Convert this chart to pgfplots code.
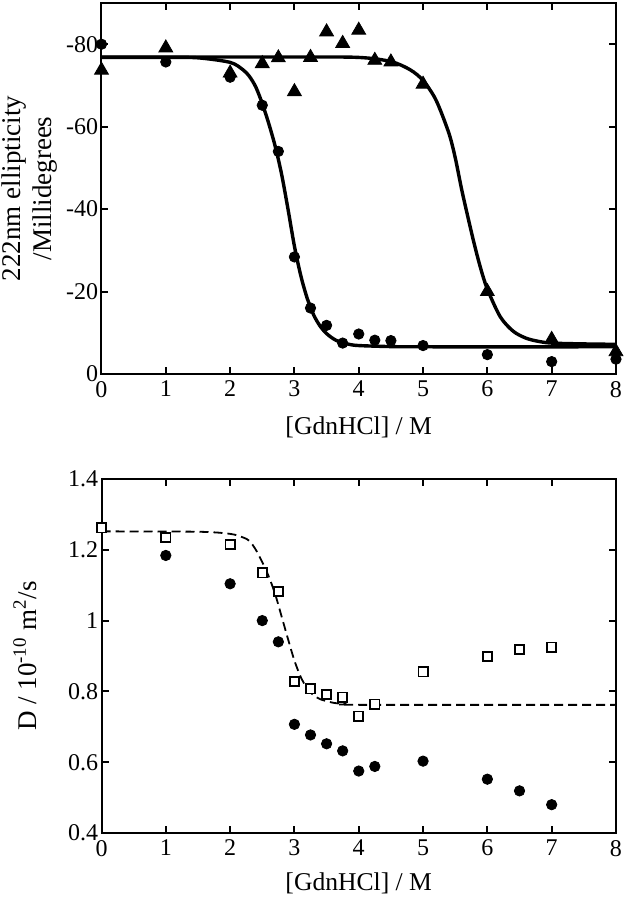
\documentclass[border=0pt]{standalone}
\usepackage{fontspec}
\setmainfont{Liberation Serif}
\usepackage{pgfplots}
\pgfplotsset{compat=1.18}
\begin{document}
\begin{tikzpicture}[x=1pt,y=1pt]
\path[use as bounding box] (0,0) rectangle (312.5,450);
\pgfplotsset{
  myaxis/.style={
    scale only axis, width=257.25pt, xmin=0, xmax=8, xtick={0,1,...,8},
    tick align=inside, major tick length=3.5pt,
    axis line style={line width=1pt},
    every tick/.style={line width=1pt, black},
    minor tick num=0,
    tick label style={font=\fontsize{12}{14}\selectfont},
    yticklabel style={inner sep=1.5pt},
    label style={font=\fontsize{12.8}{15.5}\selectfont},
    /pgf/number format/assume math mode=true,
    clip=false, anchor=south west,
    xlabel={[GdnHCl] / M},
  }
}
% ---------------- top panel ----------------
\begin{axis}[myaxis, at={(50.75pt,263pt)}, height=185.5pt,
  ymin=-90, ymax=0, y dir=reverse, ytick={-80,-60,-40,-20,0},
  xlabel style={at={(axis description cs:0.5,-0.143)}, anchor=center},
  ylabel style={at={(axis description cs:-0.139,0.5)}, anchor=center, align=center, font=\fontsize{13.5}{15.5}\selectfont},
  ylabel={222nm ellipticity\\/Millidegrees}]
\addplot[black, line width=1.7pt, smooth] coordinates {
(0,-76.8) (1,-76.8) (1.5,-76.7) (2,-75.6) (2.2,-73.8) (2.3,-72.2) (2.4,-69.6) (2.5,-65.6)
(2.6,-60.8) (2.7,-55.3) (2.8,-48.5) (2.9,-40) (3.0,-31) (3.1,-23.8) (3.2,-18.3) (3.3,-14.3)
(3.4,-11.6) (3.5,-9.8) (3.6,-8.6) (3.7,-7.8) (3.85,-7.2) (4.0,-6.9) (4.5,-6.65) (5,-6.6) (8,-6.6)};
\addplot[black, line width=1.7pt, smooth] coordinates {
(0,-76.9) (3,-76.9) (4,-76.8) (4.5,-75.8) (4.8,-73.8) (5.0,-71.2) (5.2,-66.5) (5.4,-58.5)
(5.5,-52.5) (5.6,-44.8) (5.7,-37.9) (5.8,-31.3) (5.9,-25.4) (6.0,-20.6) (6.2,-13.9)
(6.4,-10.4) (6.6,-8.7) (6.8,-7.9) (7.0,-7.5) (7.5,-7.3) (8.0,-7.2)};
\addplot[only marks, mark=triangle*, mark size=4pt, black] coordinates {
(0,-73.7) (1,-79.1) (2,-73) (2.5,-75.3) (2.75,-76.7) (3,-68.5) (3.25,-76.8) (3.5,-83)
(3.75,-80.2) (4,-83.4) (4.25,-76.1) (4.5,-75.7) (5,-70.3) (6,-20) (7,-8.4) (8,-5.4)};
\addplot[only marks, mark=*, mark size=2.6pt, black] coordinates {
(0,-80) (1,-75.7) (2,-72) (2.5,-65.2) (2.75,-54) (3,-28.4) (3.25,-16) (3.5,-11.8)
(3.75,-7.5) (4,-9.7) (4.25,-8.2) (4.5,-8.1) (5,-6.9) (6,-4.7) (7,-3.0) (8,-3.6)};
\end{axis}
% ---------------- bottom panel ----------------
\begin{axis}[myaxis, at={(50.75pt,33.5pt)}, height=177pt,
  ymin=0.4, ymax=1.4, ytick={0.4,0.6,0.8,1,1.2,1.4},
  yticklabel style={/pgf/number format/fixed},
  xlabel style={at={(axis description cs:0.5,-0.141)}, anchor=center},
  ylabel style={at={(axis description cs:-0.149,0.5)}, anchor=center, font=\fontsize{13.5}{15.5}\selectfont},
  ylabel={D / 10\textsuperscript{-10} m\textsuperscript{2}/s}]
\addplot[black, line width=0.9pt, dash pattern=on 4.5pt off 2.5pt, smooth] coordinates {
(0,1.252) (1.5,1.251) (2.0,1.245) (2.2,1.235) (2.3,1.225) (2.4,1.200) (2.5,1.165) (2.6,1.125)
(2.7,1.075) (2.8,1.012) (2.9,0.948) (3.0,0.887) (3.1,0.840) (3.2,0.808) (3.3,0.789)
(3.4,0.778) (3.6,0.768) (3.8,0.764) (4.0,0.762) (8.0,0.762)};
\addplot[only marks, mark=*, mark size=2.6pt, black] coordinates {
(1,1.184) (2,1.104) (2.5,1.000) (2.75,0.940) (3,0.707) (3.25,0.677) (3.5,0.652)
(3.75,0.632) (4,0.575) (4.25,0.588) (5,0.603) (6,0.552) (6.5,0.519) (7,0.480)};
\addplot[only marks, mark=square*, mark size=2.3pt, draw=black, fill=white, line width=0.9pt] coordinates {
(0,1.262) (1,1.235) (2,1.215) (2.5,1.135) (2.75,1.083) (3,0.828) (3.25,0.807) (3.5,0.791)
(3.75,0.784) (4,0.730) (4.25,0.764) (5,0.855) (6,0.898) (6.5,0.918) (7,0.925)};
\end{axis}
\end{tikzpicture}
\end{document}
